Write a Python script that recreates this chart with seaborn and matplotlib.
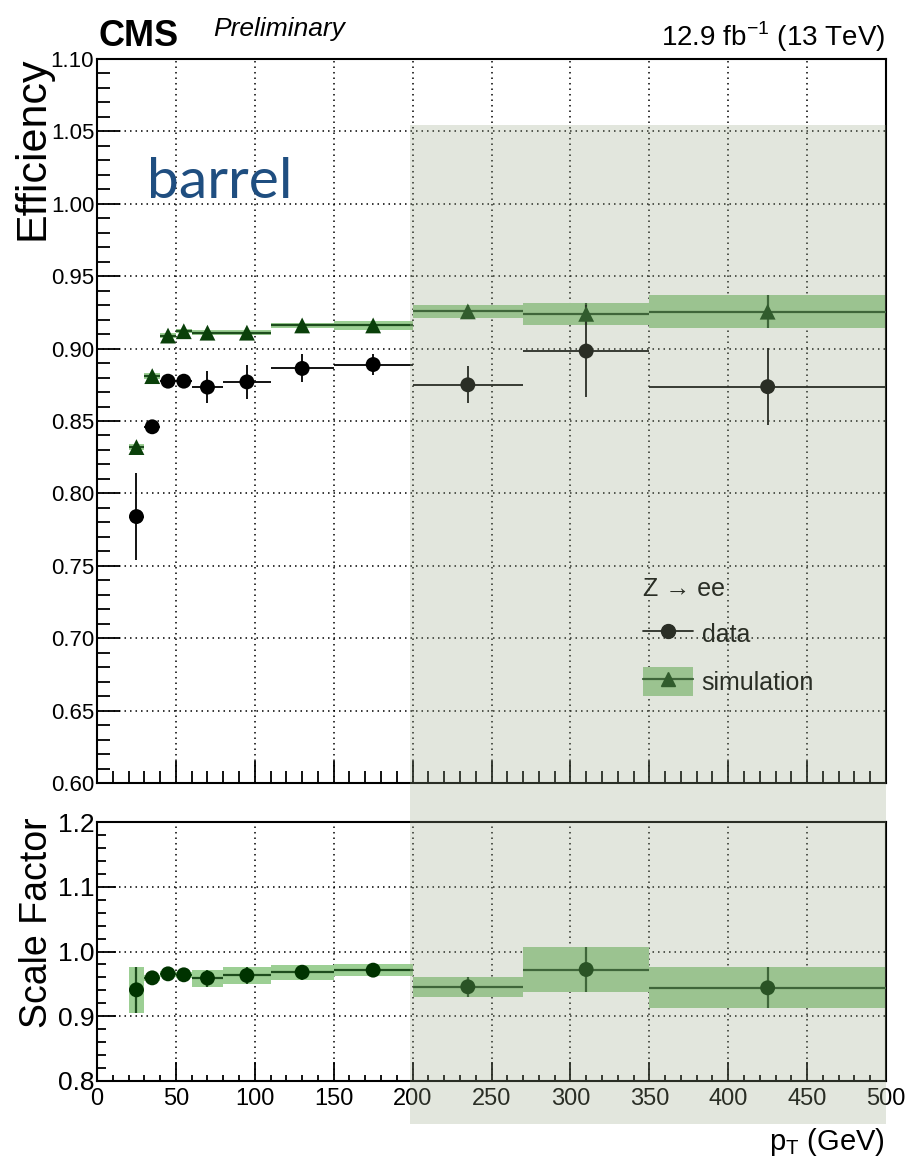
import numpy as np
import pandas as pd
import matplotlib
matplotlib.use("Agg")
import matplotlib.pyplot as plt
import seaborn as sns
from matplotlib.ticker import MultipleLocator, FormatStrFormatter
from matplotlib.patches import Rectangle, Patch
from matplotlib.lines import Line2D

# pT bins (GeV)
pt_lo = [20, 30, 40, 50, 60, 80, 110, 150, 200, 270, 350]
pt_hi = [30, 40, 50, 60, 80, 110, 150, 200, 270, 350, 500]
pt_mid = [25, 35, 45, 55, 70, 95, 130, 175, 235, 310, 425]

# efficiency, data
eff_data = [0.784, 0.846, 0.8775, 0.8775, 0.8734, 0.877, 0.8863, 0.889, 0.875, 0.8983, 0.8737]
eff_data_err = [0.030, 0.004, 0.003, 0.003, 0.011, 0.012, 0.0097, 0.0075, 0.0129, 0.032, 0.0267]

# efficiency, simulation
eff_mc = [0.832, 0.881, 0.909, 0.912, 0.911, 0.911, 0.916, 0.916, 0.9257, 0.924, 0.9255]
eff_mc_err = [0.002, 0.002, 0.0015, 0.0015, 0.0015, 0.0015, 0.002, 0.003, 0.0044, 0.0077, 0.0113]

# scale factor data/simulation
sf = [0.9408, 0.9593, 0.9655, 0.964, 0.9589, 0.963, 0.968, 0.9712, 0.9455, 0.9722, 0.9439]
sf_err = [0.036, 0.005, 0.005, 0.005, 0.013, 0.0134, 0.0116, 0.0098, 0.0152, 0.035, 0.0317]

x_ticks = [0, 50, 100, 150, 200, 250, 300, 350, 400, 450, 500]
x_tick_labels = ["0", "50", "100", "150", "200", "250", "300", "350", "400", "450", "500"]

sns.set_theme(style="white")
plt.rcParams["font.family"] = ["Liberation Sans", "DejaVu Sans"]
for k in ("text.color", "axes.labelcolor", "xtick.color", "ytick.color"):
    plt.rcParams[k] = "black"
plt.rcParams["axes.unicode_minus"] = False

BAND = "#9ccf94"
MC_LINE = "#1d4d1d"
MC_MARK = "#0a400a"
SF_MARK = "#003300"

df = pd.DataFrame({"pt": pt_mid, "eff_data": eff_data, "eff_mc": eff_mc, "sf": sf})
width = np.subtract(pt_hi, pt_lo)

W, H = 919, 1170
fig = plt.figure(figsize=(W / 100, H / 100), dpi=100)
ax_top = fig.add_axes([97 / W, 1 - 783 / H, 789 / W, 724 / H])
ax_bot = fig.add_axes([97 / W, 1 - 1081 / H, 789 / W, 259 / H])


def band(ax, y, err):
    y = np.array(y)
    err = np.array(err)
    ax.bar(pt_lo, 2 * err, width=width, bottom=y - err, align="edge",
           color=BAND, linewidth=0, zorder=2)


def bars(ax, y, err, color, lw=1.3):
    y = np.array(y)
    err = np.array(err)
    ax.hlines(y, pt_lo, pt_hi, colors=color, linewidth=lw, zorder=3)
    ax.vlines(pt_mid, y - err, y + err, colors=color, linewidth=lw, zorder=3)


# top panel: efficiencies
band(ax_top, eff_mc, eff_mc_err)
bars(ax_top, eff_mc, eff_mc_err, MC_LINE, lw=1.6)
bars(ax_top, eff_data, eff_data_err, "black")
sns.scatterplot(data=df, x="pt", y="eff_mc", marker="^", s=130, color=MC_MARK,
                edgecolor="none", ax=ax_top, zorder=4, legend=False)
sns.scatterplot(data=df, x="pt", y="eff_data", marker="o", s=115, color="black",
                edgecolor="none", ax=ax_top, zorder=5, legend=False)

# bottom panel: scale factor
band(ax_bot, sf, sf_err)
bars(ax_bot, sf, sf_err, MC_LINE, lw=1.6)
sns.scatterplot(data=df, x="pt", y="sf", marker="o", s=115, color=SF_MARK,
                edgecolor="none", ax=ax_bot, zorder=5, legend=False)

for ax in (ax_top, ax_bot):
    ax.set_xlim(0, 500)
    ax.set_xlabel("")
    ax.set_ylabel("")
    ax.set_axisbelow(True)
    ax.grid(True, which="major", color="black", linestyle=(0, (1, 2.6)), linewidth=1.1)
    for s in ax.spines.values():
        s.set_color("black")
        s.set_linewidth(1.5)
    ax.xaxis.set_minor_locator(MultipleLocator(10))
    ax.set_xticks(x_ticks)

ax_top.set_ylim(0.60, 1.10)
ax_top.yaxis.set_major_locator(MultipleLocator(0.05))
ax_top.yaxis.set_minor_locator(MultipleLocator(0.01))
ax_top.yaxis.set_major_formatter(FormatStrFormatter("%.2f"))
ax_top.tick_params(axis="y", which="major", direction="in", length=16.5, width=1.3,
                   labelsize=16, pad=2, left=True)
ax_top.tick_params(axis="y", which="minor", direction="in", length=9, width=1.3, left=True)
ax_top.tick_params(axis="x", which="major", direction="in", length=16, width=1.3,
                   labelbottom=False, bottom=True)
ax_top.tick_params(axis="x", which="minor", direction="in", length=8.6, width=1.3, bottom=True)

ax_bot.set_ylim(0.8, 1.2)
ax_bot.yaxis.set_major_locator(MultipleLocator(0.1))
ax_bot.yaxis.set_minor_locator(MultipleLocator(0.02))
ax_bot.yaxis.set_major_formatter(FormatStrFormatter("%.1f"))
ax_bot.set_xticks(x_ticks, labels=x_tick_labels, fontsize=17)
ax_bot.tick_params(axis="y", which="major", direction="in", length=14, width=1.3,
                   labelsize=19, pad=2, left=True)
ax_bot.tick_params(axis="y", which="minor", direction="in", length=6.5, width=1.3, left=True)
ax_bot.tick_params(axis="x", which="major", direction="in", length=14, width=1.3,
                   pad=5, bottom=True)
ax_bot.tick_params(axis="x", which="minor", direction="in", length=4, width=1.3, bottom=True)

# legend
h_data = Line2D([], [], color="black", marker="o", markersize=10, linewidth=1.3)
h_mc = (Patch(facecolor=BAND, linewidth=0),
        Line2D([], [], color=MC_LINE, marker="^", markersize=10,
               markerfacecolor=MC_MARK, markeredgecolor=MC_MARK, linewidth=1.6))
leg = ax_top.legend([h_data, h_mc], ["data", "simulation"], title="Z \u2192 ee",
                    loc="upper left", bbox_to_anchor=(643 / W, 1 - 577 / H),
                    bbox_transform=fig.transFigure, frameon=False, borderpad=0,
                    borderaxespad=0, handlelength=2.0, handleheight=1.4,
                    handletextpad=0.35, labelspacing=0.75, alignment="left",
                    prop={"size": 18}, title_fontproperties={"size": 18})

# texts
fig.text(98 / W, 1 - 46 / H, "CMS", weight="bold", size=26, va="baseline")
fig.text(213 / W, 1 - 36 / H, "Preliminary", style="italic", size=19, va="baseline")
fig.text(885 / W, 1 - 46 / H, r"12.9 fb$^{\mathregular{-1}}$ (13 TeV)", ha="right",
         va="baseline", size=20)
fig.text(147 / W, 1 - 198 / H, "barrel", family=["Lato", "DejaVu Sans"], size=41,
         color="#1f4e80", va="baseline")
fig.text(33 / W, 1 - 57 / H, "Efficiency", rotation=90, ha="center", va="top", size=31)
fig.text(37 / W, 1 - 818 / H, "Scale Factor", rotation=90, ha="center", va="top", size=27)
fig.text(885 / W, 1 - 1126 / H, r"p$_{\mathregular{T}}$ (GeV)", ha="right", va="top", size=21)

# highlighted high-pT region
fig.patches.append(Rectangle((410 / W, 1 - 1124 / H), (886 - 410) / W, (1124 - 125) / H,
                             transform=fig.transFigure, facecolor=(153 / 255, 167 / 255, 136 / 255),
                             alpha=0.28, edgecolor="none", zorder=10))

fig.savefig("out.png", dpi=100)
